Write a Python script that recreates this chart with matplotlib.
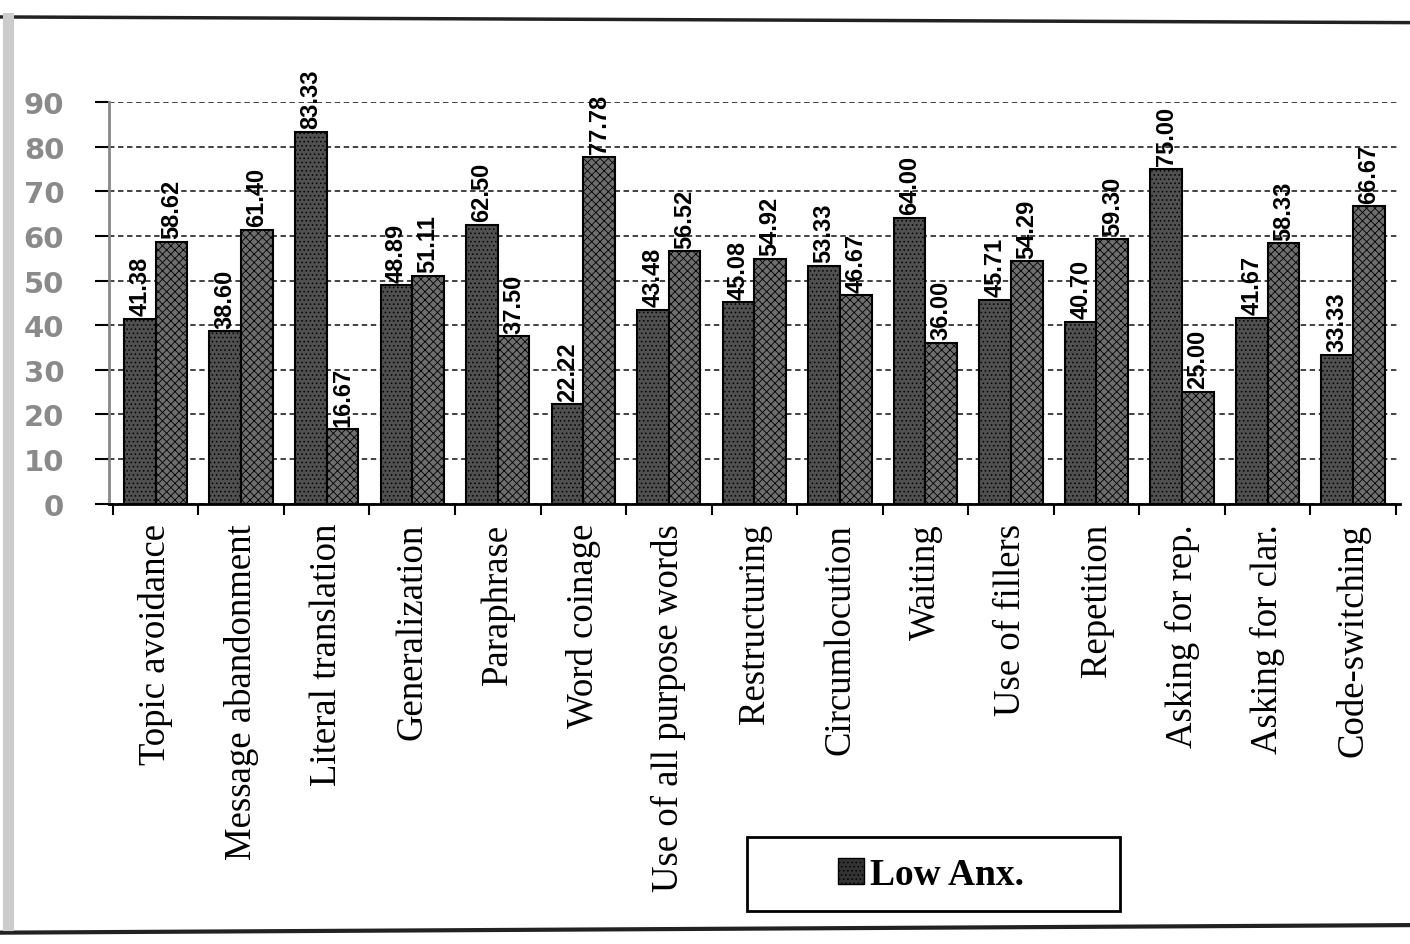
import matplotlib.pyplot as plt
import numpy as np
from matplotlib.patches import Patch, Rectangle
from matplotlib.lines import Line2D

# Communication strategies
strategies = ["Topic avoidance", "Message abandonment", "Literal translation",
              "Generalization", "Paraphrase", "Word coinage",
              "Use of all purpose words", "Restructuring", "Circumlocution",
              "Waiting", "Use of fillers", "Repetition", "Asking for rep.",
              "Asking for clar.", "Code-switching"]

# percentages per group
low_anx = [41.38, 38.60, 83.33, 48.89, 62.50, 22.22, 43.48, 45.08, 53.33,
           64.00, 45.71, 40.70, 75.00, 41.67, 33.33]
high_anx = [58.62, 61.40, 16.67, 51.11, 37.50, 77.78, 56.52, 54.92, 46.67,
            36.00, 54.29, 59.30, 25.00, 58.33, 66.67]

yticks = list(range(0, 100, 10))

plt.rcParams['hatch.linewidth'] = 0.6

fig = plt.figure(figsize=(14.1, 9.45), dpi=100)
ax = fig.add_axes([0.077, 0.466, 0.916, 0.425])

x = np.arange(len(strategies))
w = 0.37
b1 = ax.bar(x - w / 2, low_anx, w, color="#505050", edgecolor="black",
            linewidth=1.5, hatch="....", label="Low Anx.")
b2 = ax.bar(x + w / 2, high_anx, w, color="#6e6e6e", edgecolor="black",
            linewidth=1.5, hatch="xxxx", label="High Anx.")

for bars, vals in ((b1, low_anx), (b2, high_anx)):
    for r, v in zip(bars, vals):
        ax.text(r.get_x() + r.get_width() / 2, v + 0.8, "%.2f" % v,
                rotation=90, ha="center", va="bottom", fontsize=17,
                fontweight="bold", family="Liberation Sans", clip_on=False)

ax.set_ylim(0, 90)
ax.set_xlim(-0.55, len(strategies) - 0.45)
ax.set_yticks(yticks)
ax.set_yticklabels([str(t) for t in yticks], fontsize=21, fontweight="bold",
                   color="#8a8a8a")
ax.yaxis.grid(True, linestyle=(0, (3, 2)), color="#333333", linewidth=1.3)
ax.set_axisbelow(True)

ax.set_xticks(x)
ax.set_xticklabels(strategies, rotation=90, fontsize=26.5,
                   family="Liberation Serif")
ax.set_xticks(np.arange(len(strategies) + 1) - 0.5, minor=True)
ax.tick_params(axis="x", which="major", length=0, pad=14)
ax.tick_params(axis="x", which="minor", length=8, width=1.5, direction="out")
ax.tick_params(axis="y", length=10, width=1.5, direction="out", pad=22)

for s in ("top", "right"):
    ax.spines[s].set_visible(False)
ax.spines["left"].set_color("#888888")
ax.spines["left"].set_linewidth(2)
ax.spines["bottom"].set_linewidth(2)

# legend box (only the first series is shown in the original)
fig.add_artist(Rectangle((747 / 1410, 1 - 912 / 945), 373 / 1410, 74 / 945,
                         transform=fig.transFigure, facecolor="white",
                         edgecolor="black", linewidth=2))
handle = Patch(facecolor="#333333", edgecolor="black", hatch="....")
fig.legend([handle], ["Low Anx."], loc="center",
           bbox_to_anchor=(0.66, 0.0735), frameon=False,
           handlelength=0.7, handleheight=0.7, handletextpad=0.15,
           prop={"family": "Liberation Serif", "weight": "bold", "size": 27})

# outer frame of the scanned figure
fig.add_artist(Line2D([0.0, 1.0], [0.981, 0.975], color="#222222", lw=2.5))
fig.add_artist(Line2D([0.0, 1.0], [0.012, 0.02], color="#222222", lw=3))
fig.add_artist(Line2D([0.006, 0.006], [0.02, 0.98], color="#cccccc", lw=8))

fig.savefig("out.png", dpi=100)
